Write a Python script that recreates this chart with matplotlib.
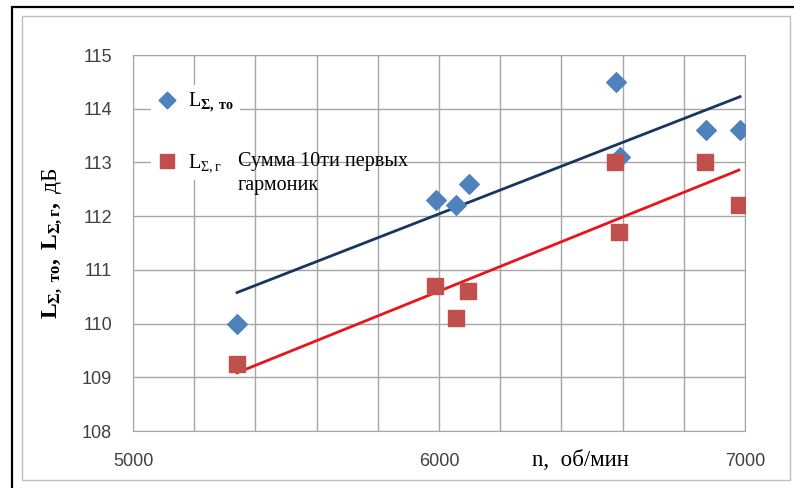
import numpy as np
import matplotlib.pyplot as plt
from matplotlib.patches import Rectangle

plt.rcParams.update({
    "font.family": ["Liberation Sans", "DejaVu Sans"],
    "mathtext.fontset": "custom",
    "mathtext.rm": "Liberation Serif",
    "mathtext.it": "Liberation Serif:italic",
    "mathtext.bf": "Liberation Serif:bold",
})

# data
n_to = [5340, 5990, 6056, 6098, 6578, 6591, 6873, 6984]
L_to = [110.0, 112.3, 112.2, 112.6, 114.5, 113.1, 113.6, 113.6]
n_g = [5340, 5987, 6056, 6095, 6575, 6588, 6870, 6980]
L_g = [109.25, 110.7, 110.1, 110.6, 113.0, 111.7, 113.0, 112.2]

x_major = [5000, 6000, 7000]
x_minor = np.arange(5000, 7001, 200)
y_ticks = np.arange(108, 116, 1)

C_TO = "#4F81BD"
C_G = "#C0504D"
C_TO_LINE = "#17375E"
C_G_LINE = "#E8141B"
C_GRID = "#A6A6A6"

W, H = 794, 488
fig = plt.figure(figsize=(W / 100, H / 100), dpi=100)
ax = fig.add_axes([133 / W, 1 - 431 / H, 612 / W, 376 / H])

# frames around the chart
fig.patches.append(Rectangle((12 / W, -0.01), 1.0, 1 - 7 / H + 0.01,
                             transform=fig.transFigure, fill=False,
                             edgecolor="black", linewidth=1.6))
fig.patches.append(Rectangle((22 / W, 1 - 480 / H), (790 - 22) / W,
                             (480 - 16) / H, transform=fig.transFigure,
                             fill=False, edgecolor="#BFBFBF", linewidth=1.0))

ax.scatter(n_to, L_to, marker="D", s=100, color=C_TO, zorder=3,
           label=r"L$_{\mathbf{\Sigma,\ то}}$")
ax.scatter(n_g, L_g, marker="s", s=130, color=C_G, zorder=3,
           label=r"L$_{\Sigma,\mathrm{г}}$")

# linear trend lines
for xs, ys, c in [(n_to, L_to, C_TO_LINE), (n_g, L_g, C_G_LINE)]:
    k, b = np.polyfit(xs, ys, 1)
    xx = np.array([min(xs), max(xs)])
    ax.plot(xx, k * xx + b, color=c, linewidth=2, zorder=2)

ax.set_xlim(5000, 7000)
ax.set_ylim(108, 115)
ax.set_xticks(x_major)
ax.set_xticks(x_minor, minor=True)
ax.set_yticks(y_ticks)
ax.grid(True, which="both", color=C_GRID, linewidth=1.0, zorder=0)
ax.set_axisbelow(True)
for s in ax.spines.values():
    s.set_color(C_GRID)
ax.tick_params(which="both", length=0, labelsize=13, colors="#404040")
ax.tick_params(axis="x", pad=16)
ax.tick_params(axis="y", pad=15)

ax.set_xlabel("n,  об/мин", family="Liberation Serif", fontsize=16.5,
              va="center")
ax.xaxis.set_label_coords((580 - 133) / 612, -(460 - 431) / 376)
ax.set_ylabel(r"$\mathbf{L_{\Sigma,\ то},\ L_{\Sigma,г},}$ дБ",
              family="Liberation Serif", fontsize=17, va="center")
ax.yaxis.set_label_coords((52 - 133) / 612, 1 - (243 - 55) / 376)

leg = ax.legend(loc="upper left", bbox_to_anchor=(0.03, 0.92),
                frameon=True, facecolor="white", edgecolor="none",
                framealpha=1, labelspacing=1.9, handlelength=1.0,
                handletextpad=0.5, borderpad=0.3, borderaxespad=0,
                scatteryoffsets=[0.5], markerscale=0.85,
                prop={"family": "Liberation Serif", "size": 14.5})
leg.set_zorder(4)

ax.text((238 - 133) / 612, 1 - (152 - 55) / 376,
        "Сумма 10ти первых\nгармоник", transform=ax.transAxes,
        family="Liberation Serif", fontsize=14.5, va="top", ha="left",
        linespacing=1.35, zorder=6)

fig.savefig("out.png", dpi=100)
